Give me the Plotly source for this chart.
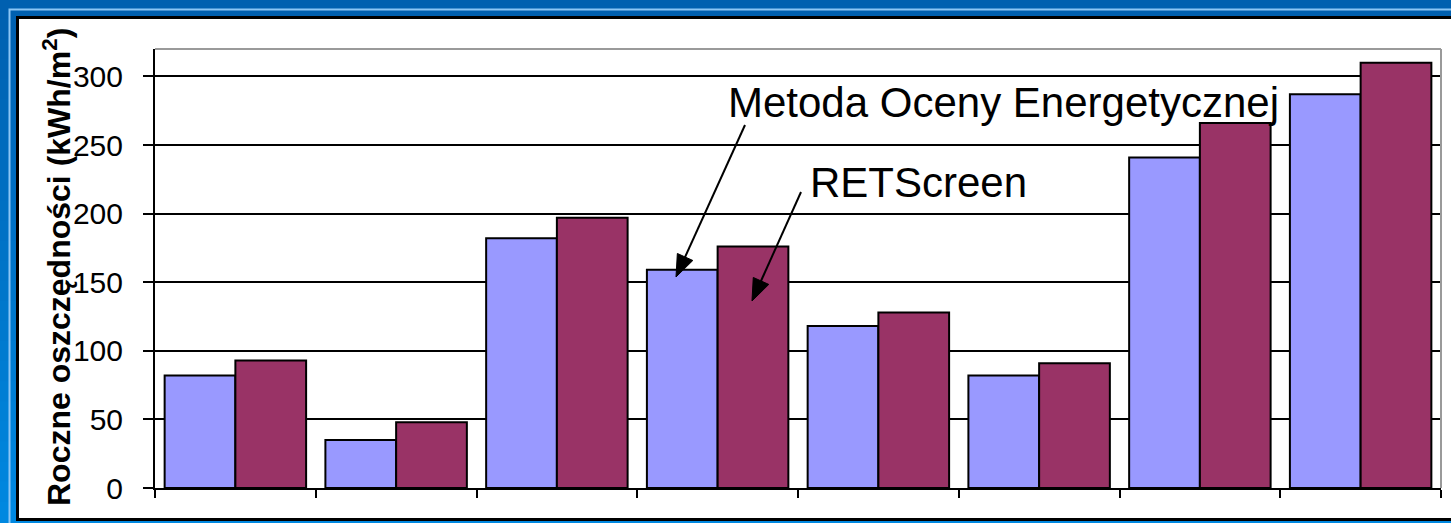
import math
import plotly.graph_objects as go

categories = ["1", "2", "3", "4", "5", "6", "7", "8"]
metoda_values = [82, 35, 182, 159, 118, 82, 241, 287]
retscreen_values = [93, 48, 197, 176, 128, 91, 266, 310]
series_names = ["Metoda Oceny Energetycznej", "RETScreen"]
y_title = "<b>Roczne oszczędności (kWh/m<sup>2</sup>)</b>"

W, H = 1451, 523
L, R, T, B = 155, 10, 49, 35
PW = W - L - R
PH = H - T - B


def px2x(px):
    return (px - L) / PW


def py2y(py):
    return (H - B - py) / PH


fig = go.Figure()
fig.add_trace(go.Bar(x=categories, y=metoda_values, name=series_names[0],
                     marker=dict(color="#9999ff", line=dict(color="black", width=2))))
fig.add_trace(go.Bar(x=categories, y=retscreen_values, name=series_names[1],
                     marker=dict(color="#993366", line=dict(color="black", width=2))))

shapes = []
# background gradient bands
n = 26
top_c = (0, 96, 176)
bot_c = (0, 136, 224)
for i in range(n):
    t = i / (n - 1)
    c = tuple(int(top_c[k] + (bot_c[k] - top_c[k]) * t) for k in range(3))
    shapes.append(dict(type="rect", xref="paper", yref="paper", layer="below",
                       x0=px2x(-5), x1=px2x(W + 5),
                       y0=py2y(H * i / n - 1), y1=py2y(H * (i + 1) / n + 1),
                       fillcolor="rgb(%d,%d,%d)" % c, line=dict(width=0)))
# light stripe frame
shapes.append(dict(type="rect", xref="paper", yref="paper", layer="below",
                   x0=px2x(9.5), x1=px2x(W + 40), y0=py2y(9.5), y1=py2y(H + 40),
                   fillcolor="rgba(0,0,0,0)", line=dict(color="#8cc6f5", width=2)))
# white panel with black border
shapes.append(dict(type="rect", xref="paper", yref="paper", layer="below",
                   x0=px2x(17.5), x1=px2x(W + 40), y0=py2y(17.5), y1=py2y(519.5),
                   fillcolor="white", line=dict(color="black", width=3)))
# gray plot border top and right
shapes.append(dict(type="line", xref="paper", yref="paper", layer="above",
                   x0=0, x1=1, y0=1, y1=1, line=dict(color="#9a9a9a", width=2)))
shapes.append(dict(type="line", xref="paper", yref="paper", layer="above",
                   x0=1, x1=1, y0=0, y1=1, line=dict(color="#9a9a9a", width=2)))


def arrow(tail, tip, head_len=22, head_w=17):
    (tx, ty), (hx, hy) = tail, tip
    dx, dy = hx - tx, hy - ty
    d = math.hypot(dx, dy)
    ux, uy = dx / d, dy / d
    bx, by = hx - ux * head_len, hy - uy * head_len
    nx, ny = -uy, ux
    p1 = (bx + nx * head_w / 2, by + ny * head_w / 2)
    p2 = (bx - nx * head_w / 2, by - ny * head_w / 2)
    out = [dict(type="line", xref="paper", yref="paper", layer="above",
                x0=px2x(tx), y0=py2y(ty), x1=px2x(bx + ux * 2), y1=py2y(by + uy * 2),
                line=dict(color="black", width=2))]
    path = "M %f,%f L %f,%f L %f,%f Z" % (px2x(hx), py2y(hy), px2x(p1[0]), py2y(p1[1]),
                                          px2x(p2[0]), py2y(p2[1]))
    out.append(dict(type="path", xref="paper", yref="paper", layer="above", path=path,
                    fillcolor="black", line=dict(color="black", width=1)))
    return out


shapes += arrow((745, 125), (676, 277))
shapes += arrow((801, 192), (752, 301))

annotations = [
    dict(text=y_title, xref="paper", yref="paper", x=px2x(57), y=py2y(267),
         xanchor="center", yanchor="middle", textangle=-90, showarrow=False,
         font=dict(family="Arial, Liberation Sans", size=32, color="black")),
    dict(text=series_names[0], xref="paper", yref="paper", x=px2x(726), y=py2y(102),
         xanchor="left", yanchor="middle", showarrow=False,
         font=dict(family="Arial, Liberation Sans", size=42, color="black")),
    dict(text=series_names[1], xref="paper", yref="paper", x=px2x(808), y=py2y(182),
         xanchor="left", yanchor="middle", showarrow=False,
         font=dict(family="Arial, Liberation Sans", size=42, color="black")),
]

fig.update_layout(
    width=W, height=H,
    margin=dict(l=L, r=R, t=T, b=B, pad=0),
    paper_bgcolor="#0070c0",
    plot_bgcolor="rgba(0,0,0,0)",
    barmode="group", bargap=0.12, bargroupgap=0,
    showlegend=False,
    shapes=shapes,
    annotations=annotations,
    font=dict(family="Arial, Liberation Sans", color="black"),
    xaxis=dict(type="category", showticklabels=False, ticks="outside", tickson="boundaries",
               ticklen=8, tickwidth=2, tickcolor="black", showgrid=False,
               showline=True, linecolor="black", linewidth=2, zeroline=False),
    yaxis=dict(range=[0, 320], tickvals=[0, 50, 100, 150, 200, 250, 300],
               ticks="outside", ticklen=10, tickwidth=2, tickcolor="black",
               tickfont=dict(family="Arial, Liberation Sans", size=30, color="black"),
               ticklabelstandoff=14,
               showgrid=True, gridcolor="black", gridwidth=2,
               showline=True, linecolor="black", linewidth=2, zeroline=False),
)

fig.write_html("out.html", config={"displayModeBar": False},
               post_script="document.body.style.margin='0';document.body.style.overflow='hidden';")
